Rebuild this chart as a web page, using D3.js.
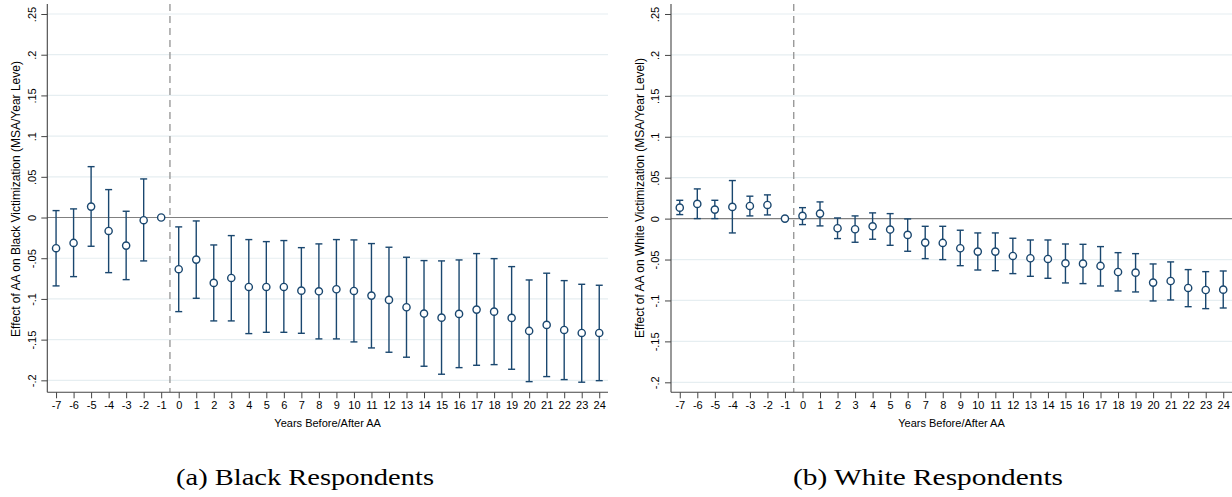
<!DOCTYPE html>
<html>
<head>
<meta charset="utf-8">
<script src="https://cdn.jsdelivr.net/npm/d3@7"></script>
<style>
  html, body { margin: 0; padding: 0; background: #fff; }
  svg { display: block; }
  .tick text { font-family: "Liberation Sans", Arial, sans-serif; }
</style>
</head>
<body>
<svg id="chart" width="1232" height="497"></svg>
<script>
// Event-study estimates: years relative to AA, point estimate and 95% CI bounds
const years = [-7,-6,-5,-4,-3,-2,-1,0,1,2,3,4,5,6,7,8,9,10,11,12,13,14,15,16,17,18,19,20,21,22,23,24];

const blackEst = [-0.0377,-0.0312,0.0134,-0.0165,-0.0345,-0.0033,0,-0.0635,-0.0517,-0.0803,-0.0742,-0.0853,-0.0853,-0.0853,-0.0898,-0.0906,-0.0881,-0.0902,-0.0959,-0.1012,-0.1102,-0.118,-0.123,-0.1184,-0.1131,-0.1156,-0.1233,-0.1393,-0.1319,-0.1381,-0.1418,-0.1418];
const blackLo  = [-0.084,-0.0726,-0.0353,-0.0677,-0.0763,-0.0533,0,-0.1156,-0.0992,-0.127,-0.127,-0.1426,-0.141,-0.141,-0.1422,-0.1491,-0.1491,-0.1528,-0.1602,-0.1655,-0.1716,-0.1827,-0.1925,-0.1844,-0.1815,-0.1807,-0.1864,-0.2016,-0.1954,-0.1991,-0.2023,-0.2004];
const blackHi  = [0.0085,0.0106,0.0625,0.0343,0.0077,0.0474,0,-0.0115,-0.0042,-0.0337,-0.0222,-0.0271,-0.0296,-0.0283,-0.037,-0.0324,-0.0271,-0.0275,-0.032,-0.0365,-0.0488,-0.0529,-0.0533,-0.0521,-0.0443,-0.0505,-0.0603,-0.0767,-0.0684,-0.0775,-0.082,-0.0832];

const whiteEst = [0.0134,0.018,0.011,0.0143,0.0155,0.0167,0,0.0033,0.0061,-0.0118,-0.013,-0.0094,-0.0134,-0.0199,-0.0293,-0.0297,-0.0362,-0.0403,-0.0403,-0.0456,-0.0484,-0.0493,-0.0546,-0.055,-0.0578,-0.0652,-0.066,-0.0782,-0.0762,-0.0847,-0.0872,-0.0868];
const whiteLo  = [0.0049,0,0,-0.0175,0.0033,0.0045,0,-0.0073,-0.0089,-0.0244,-0.0289,-0.0252,-0.0326,-0.0399,-0.0489,-0.0501,-0.0575,-0.0628,-0.0636,-0.0672,-0.0705,-0.0729,-0.0786,-0.0794,-0.0823,-0.0884,-0.0896,-0.1006,-0.0994,-0.1076,-0.11,-0.1092];
const whiteHi  = [0.0224,0.0363,0.0224,0.0465,0.0274,0.029,0,0.0134,0.0204,0.0008,0.0033,0.007,0.0061,-0.0004,-0.0094,-0.0094,-0.0142,-0.0175,-0.0175,-0.024,-0.0261,-0.0261,-0.031,-0.0314,-0.0342,-0.0416,-0.0428,-0.0554,-0.0529,-0.0623,-0.0648,-0.064];

const yTicks = [-0.2,-0.15,-0.1,-0.05,0,0.05,0.1,0.15,0.2,0.25];
const yTickLabels = ["-.2","-.15","-.1","-.05","0",".05",".1",".15",".2",".25"];

const xTitle = "Years Before/After AA";
const panels = [
  { est: blackEst, lo: blackLo, hi: blackHi,
    yTitle: "Effect of AA on Black Victimization (MSA/Year Leve)",
    caption: "(a) Black Respondents", captionW: 258,
    x0: 47.3, x1: 608, yDom: [-0.2147, 0.2623], yRange: [392.3, 4],
    yTitleX: 16, yTitleY: 199, captionX: 305 },
  { est: whiteEst, lo: whiteLo, hi: whiteHi,
    yTitle: "Effect of AA on White Victimization (MSA/Year Level)",
    caption: "(b) White Respondents", captionW: 270,
    x0: 671, x1: 1232, yDom: [-0.2122, 0.2622], yRange: [392.3, 4],
    yTitleX: 640, yTitleY: 198, captionX: 928 }
];

const navy = "#1a476f";
const svg = d3.select("#chart");

panels.forEach(p => {
  const g = svg.append("g");
  const x = d3.scaleLinear().domain([-7.5, 24.5]).range([p.x0, p.x1]);
  const y = d3.scaleLinear().domain(p.yDom).range(p.yRange);
  const top = p.yRange[1], bottom = p.yRange[0];

  // horizontal gridlines
  g.append("g").selectAll("line").data(yTicks.filter(t => t !== 0)).join("line")
    .attr("x1", p.x0).attr("x2", p.x1)
    .attr("y1", d => y(d)).attr("y2", d => y(d))
    .attr("stroke", "#e6eef1").attr("stroke-width", 1.2);

  // zero reference line
  g.append("line")
    .attr("x1", p.x0).attr("x2", p.x1)
    .attr("y1", y(0)).attr("y2", y(0))
    .attr("stroke", "#808080").attr("stroke-width", 1.2);

  // treatment timing reference line
  g.append("line")
    .attr("x1", x(-0.5)).attr("x2", x(-0.5))
    .attr("y1", top).attr("y2", bottom)
    .attr("stroke", "#9a9a9a").attr("stroke-width", 1.4)
    .attr("stroke-dasharray", "7,5");

  // y axis with rotated labels
  const yAxis = d3.axisLeft(y).tickValues(yTicks)
    .tickFormat((d, i) => yTickLabels[i]).tickSize(6);
  const ya = g.append("g").attr("transform", `translate(${p.x0},0)`).call(yAxis);
  ya.select(".domain").attr("d", `M0,${top}V${bottom}`).attr("stroke", "#444").attr("stroke-width", 1.1);
  ya.selectAll(".tick line").attr("stroke", "#444");
  ya.selectAll(".tick text")
    .attr("font-size", 11).attr("fill", "#000")
    .attr("text-anchor", "middle")
    .attr("x", 0).attr("y", 0).attr("dy", "0.35em")
    .attr("transform", "translate(-15.5,0) rotate(-90)");

  // x axis
  const xAxis = d3.axisBottom(x).tickValues(years).tickFormat(d => String(d)).tickSize(6).tickPadding(3);
  const xa = g.append("g").attr("transform", `translate(0,${bottom})`).call(xAxis);
  xa.select(".domain").attr("d", `M${p.x0},0H${p.x1}`).attr("stroke", "#444").attr("stroke-width", 1.1);
  xa.selectAll(".tick line").attr("stroke", "#444");
  xa.selectAll(".tick text").attr("font-size", 11).attr("fill", "#000");

  // axis titles
  g.append("text")
    .attr("transform", `translate(${p.yTitleX},${p.yTitleY}) rotate(-90)`)
    .attr("text-anchor", "middle").attr("dy", "0.35em")
    .attr("font-family", "Liberation Sans, Arial, sans-serif").attr("font-size", 12)
    .text(p.yTitle);
  g.append("text")
    .attr("x", (p.x0 + p.x1) / 2).attr("y", 427)
    .attr("text-anchor", "middle")
    .attr("font-family", "Liberation Sans, Arial, sans-serif").attr("font-size", 11)
    .text(xTitle);

  // confidence intervals
  const ci = g.append("g").attr("stroke", navy).attr("stroke-width", 1.4).attr("fill", "none");
  years.forEach((yr, i) => {
    const cx = x(yr);
    ci.append("line").attr("x1", cx).attr("x2", cx).attr("y1", y(p.lo[i])).attr("y2", y(p.hi[i]));
    ci.append("line").attr("x1", cx - 3.5).attr("x2", cx + 3.5).attr("y1", y(p.lo[i])).attr("y2", y(p.lo[i]));
    ci.append("line").attr("x1", cx - 3.5).attr("x2", cx + 3.5).attr("y1", y(p.hi[i])).attr("y2", y(p.hi[i]));
  });

  // point estimates
  g.append("g").selectAll("circle").data(years).join("circle")
    .attr("cx", d => x(d)).attr("cy", (d, i) => y(p.est[i])).attr("r", 3.6)
    .attr("fill", "#fff").attr("stroke", navy).attr("stroke-width", 1.4);

  // panel caption
  g.append("text")
    .attr("x", p.captionX).attr("y", 485)
    .attr("text-anchor", "middle")
    .attr("font-family", "Liberation Serif, 'Times New Roman', serif").attr("font-size", 23)
    .attr("textLength", p.captionW).attr("lengthAdjust", "spacingAndGlyphs")
    .text(p.caption);
});
</script>
</body>
</html>
